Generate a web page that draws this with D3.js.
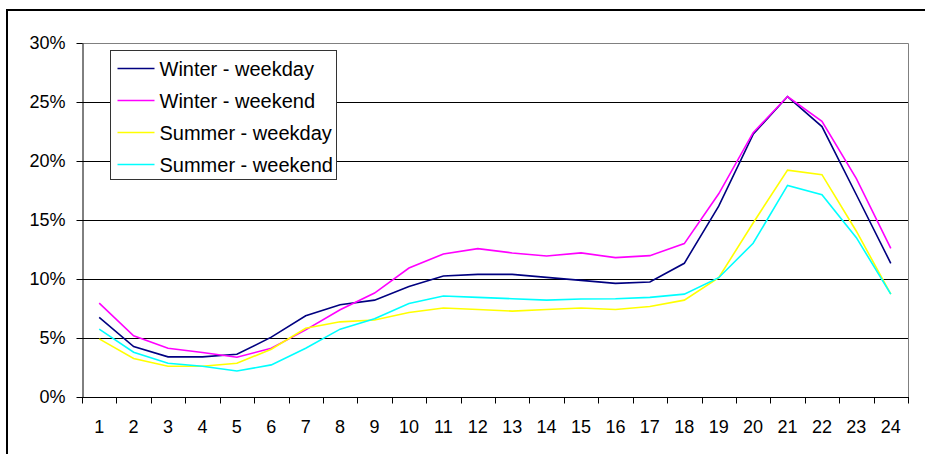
<!DOCTYPE html>
<html>
<head>
<meta charset="utf-8">
<script src="https://cdn.jsdelivr.net/npm/d3@7"></script>
<style>
  html, body { margin: 0; padding: 0; background: #fff; }
  svg { display: block; font-family: "Liberation Sans", Arial, sans-serif; }
</style>
</head>
<body>
<svg id="chart" width="925" height="454"></svg>
<script>
// Hour of day (1..24)
const hours = d3.range(1, 25).map(String);

// Share of daily load per hour, in percent
const winterWeekday = [6.74, 4.27, 3.40, 3.40, 3.62, 5.07, 6.88, 7.82, 8.21, 9.37, 10.25, 10.39,
                       10.39, 10.14, 9.88, 9.63, 9.74, 11.33, 16.17, 22.26, 25.46, 22.92, 17.14, 11.33];
const winterWeekend = [7.96, 5.18, 4.13, 3.77, 3.37, 4.13, 5.69, 7.39, 8.81, 10.93, 12.12, 12.57,
                       12.21, 11.95, 12.21, 11.81, 11.98, 13.00, 17.22, 22.40, 25.46, 23.37, 18.50, 12.60];
const summerWeekday = [4.93, 3.26, 2.60, 2.60, 2.86, 4.05, 5.83, 6.37, 6.52, 7.16, 7.54, 7.42,
                       7.28, 7.42, 7.54, 7.42, 7.67, 8.21, 10.11, 14.75, 19.23, 18.84, 14.05, 8.72];
const summerWeekend = [5.75, 3.80, 2.86, 2.60, 2.20, 2.72, 4.13, 5.75, 6.63, 7.93, 8.56, 8.44,
                       8.33, 8.21, 8.30, 8.33, 8.44, 8.72, 10.11, 13.03, 17.93, 17.14, 13.50, 8.72];

const seriesNames = ["Winter - weekday", "Winter - weekend", "Summer - weekday", "Summer - weekend"];
const seriesColors = ["#000080", "#ff00ff", "#ffff00", "#00ffff"];
const yTicks = [0, 5, 10, 15, 20, 25, 30];

const series = [winterWeekday, winterWeekend, summerWeekday, summerWeekend].map((values, i) => ({
  name: seriesNames[i], color: seriesColors[i], values
}));

const svg = d3.select("#chart");
const plot = { left: 82, right: 908, top: 43, bottom: 397 };

// Outer chart frame
svg.append("rect")
  .attr("x", 7).attr("y", 10)
  .attr("width", 940).attr("height", 470)
  .attr("fill", "#fff").attr("stroke", "#000").attr("stroke-width", 2);

const x = d3.scaleBand().domain(hours).range([plot.left, plot.right]).paddingInner(0).paddingOuter(0);
const y = d3.scaleLinear().domain([0, 30]).range([plot.bottom, plot.top]);

// Horizontal gridlines
svg.append("g")
  .selectAll("line")
  .data(yTicks.filter(t => t > 0 && t < 30))
  .join("line")
  .attr("x1", plot.left).attr("x2", plot.right)
  .attr("y1", d => Math.round(y(d)) + 0.5).attr("y2", d => Math.round(y(d)) + 0.5)
  .attr("stroke", "#000").attr("stroke-width", 1);

// Plot area border (top and right)
svg.append("path")
  .attr("d", `M${plot.left},${plot.top + 0.5}H${plot.right + 0.5}V${plot.bottom}`)
  .attr("fill", "none").attr("stroke", "#808080").attr("stroke-width", 1);

// Y axis
const yAxis = svg.append("g")
  .attr("transform", `translate(${plot.left + 0.5},0)`)
  .call(d3.axisLeft(y).tickValues(yTicks).tickFormat(d => d + "%").tickSize(6).tickSizeOuter(0).tickPadding(11));
yAxis.select(".domain").attr("stroke", "#000");
yAxis.selectAll(".tick line").attr("stroke", "#000");
yAxis.selectAll(".tick text")
  .attr("font-size", "18px").attr("fill", "#000")
  .attr("font-family", "'Liberation Sans', Arial, sans-serif");

// X axis: ticks at category boundaries
const boundaries = d3.range(0, hours.length + 1).map(i => plot.left + i * x.bandwidth());
const xAxisG = svg.append("g").attr("transform", `translate(0,${plot.bottom + 0.5})`);
xAxisG.append("line")
  .attr("x1", plot.left).attr("x2", plot.right + 1)
  .attr("stroke", "#000");
xAxisG.selectAll("line.tick")
  .data(boundaries)
  .join("line")
  .attr("class", "tick")
  .attr("x1", d => Math.round(d) + 0.5).attr("x2", d => Math.round(d) + 0.5)
  .attr("y1", 0).attr("y2", 6)
  .attr("stroke", "#000");
xAxisG.selectAll("text")
  .data(hours)
  .join("text")
  .attr("x", d => x(d) + x.bandwidth() / 2)
  .attr("y", 35)
  .attr("text-anchor", "middle")
  .attr("font-size", "18px")
  .attr("fill", "#000")
  .text(d => d);

// Series lines
const line = d3.line()
  .x((d, i) => x(hours[i]) + x.bandwidth() / 2)
  .y(d => y(d));

svg.append("g")
  .selectAll("path")
  .data(series)
  .join("path")
  .attr("d", d => line(d.values))
  .attr("fill", "none")
  .attr("stroke", d => d.color)
  .attr("stroke-width", 1.6)
  .attr("stroke-linejoin", "miter");

// Legend
const legend = svg.append("g").attr("transform", "translate(110.5,50.5)");
legend.append("rect")
  .attr("width", 226).attr("height", 129)
  .attr("fill", "#fff").attr("stroke", "#333").attr("stroke-width", 1);
const rows = legend.selectAll("g.row")
  .data(series)
  .join("g")
  .attr("class", "row")
  .attr("transform", (d, i) => `translate(0,${18 + i * 32})`);
rows.append("line")
  .attr("x1", 7).attr("x2", 44)
  .attr("stroke", d => d.color).attr("stroke-width", 1.6);
rows.append("text")
  .attr("x", 49).attr("y", 0).attr("dy", "0.36em")
  .attr("font-size", "20px").attr("fill", "#000")
  .text(d => d.name);
</script>
</body>
</html>
